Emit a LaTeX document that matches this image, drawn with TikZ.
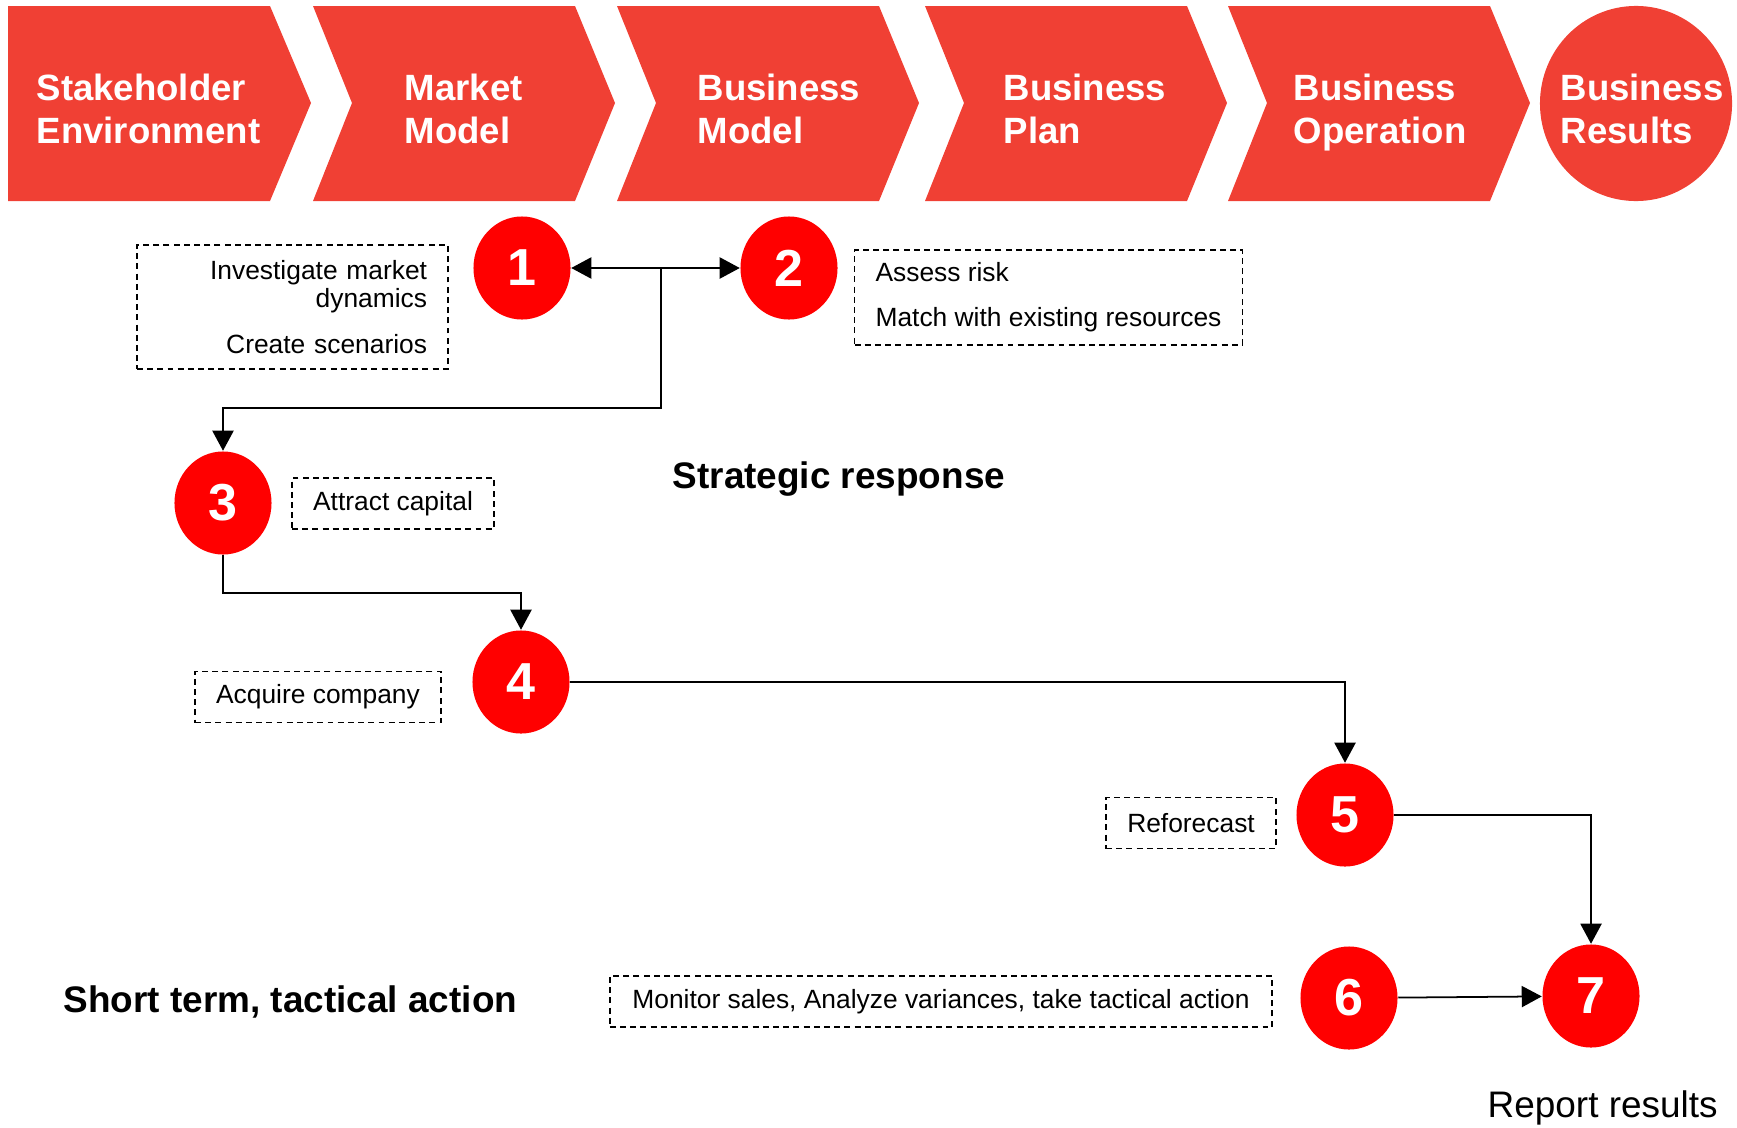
\documentclass[tikz,border=0pt]{standalone}
\usepackage{fontspec}
\setmainfont{Liberation Sans}
\usetikzlibrary{arrows.meta,shapes.geometric}

\definecolor{chevred}{RGB}{240,64,52}

\begin{document}
\begin{tikzpicture}[x=0.01cm,y=-0.01cm,
  chev/.style={fill=chevred},
  phase/.style={anchor=base west,align=left,inner sep=0,text=white,
    font=\fontsize{10.4}{12.2}\selectfont\bfseries},
  stepdot/.style={ellipse,fill=red,inner sep=0,minimum width=0.97cm,
    minimum height=1.03cm,text=white,font=\fontsize{14.8}{16}\selectfont\bfseries},
  note/.style={draw,line width=0.45pt,dash pattern=on 1.7pt off 1.2pt,inner sep=0,
    minimum height=0.51cm,font=\fontsize{7.5}{8}\selectfont},
  flow/.style={line width=0.5pt,-{Triangle[length=5.7pt,width=6pt]}},
  heading/.style={anchor=base west,inner sep=0,font=\fontsize{10.5}{12}\selectfont\bfseries}
]
\useasboundingbox (0,0) rectangle (1737,1127);

% The chevrons
\fill[chev] (8,6) -- (270,6) -- (311,103) -- (270,201) -- (8,201) -- cycle;
\foreach \x in {313,617,925,1228}
  \fill[chev] (\x,6) -- ++(262,0) -- ++(40,97) -- ++(-40,98) -- ++(-262,0) -- ++(39,-98) -- cycle;
\fill[chev] (1636,103.5) ellipse [x radius=0.96cm, y radius=0.975cm];

% base sits on the second line
\node[phase] (stake) at (36,143) {Stakeholder\\Environment};
\node[phase] (mmodel) at (404,143) {Market\\Model};
\node[phase] (bmodel) at (697,143) {Business\\Model};
\node[phase] (bplan) at (1003,143) {Business\\Plan};
\node[phase] (bop) at (1293,143) {Business\\Operation};
\node[phase] (bres) at (1560,143) {Business\\Results};

% The steps
\node[stepdot] (c1) at (522,268) {1};
\node[stepdot] (c2) at (789,268) {2};
\node[stepdot] (c3) at (223,503) {3};
\node[stepdot] (c4) at (521,682) {4};
\node[stepdot] (c5) at (1345,815) {5};
\node[stepdot] (c6) at (1349,998) {6};
\node[stepdot] (c7) at (1591,996) {7};

% The notes
\node[note,text width=2.69cm,inner xsep=0.21cm,minimum height=1.24cm,align=right] (market) at (292.5,307)
  {Investigate market\\ dynamics\\[4.8pt] Create scenarios};
\node[note,inner xsep=0.21cm,minimum height=0.95cm,align=left] (risk) at (1048.5,297.5)
  {Assess risk\\[4.8pt] Match with existing resources};
\node[note,minimum width=2.02cm] (capital) at (393,503.5) {Attract capital};
\node[note,minimum width=2.46cm] (acquire) at (318,697) {Acquire company};
\node[note,minimum width=1.70cm] (refc) at (1191,823) {Reforecast};
\node[note,minimum width=6.62cm] (monitor) at (941,1001.5) {Monitor sales, Analyze variances, take tactical action};

% The connectors
\coordinate (split) at (661,268);
\draw[flow] (split) -- (c1);
\draw[flow] (split) -- (c2);
\draw[flow] (split) -- ++(0,140) -| (c3);
\draw[flow] (c3.south) -- ++(0,38) -| (c4);
\draw[flow] (c4.east) -| (c5);
\draw[flow] (c5.east) -| (c7);
\draw[flow] (c6) -- (c7);

% The labels
\node[heading] (strat) at (672,488) {Strategic response};
\node[heading] (tact) at (63,1012) {Short term, tactical action};
\node[anchor=base west,inner sep=0,font=\fontsize{10.5}{12}\selectfont] (report) at (1487,1117.5) {Report results};
\end{tikzpicture}
\end{document}
